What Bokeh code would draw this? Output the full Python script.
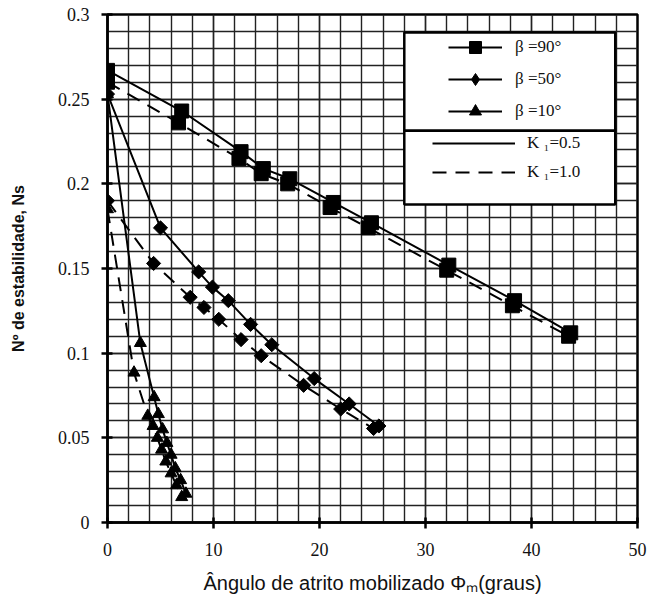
from bokeh.plotting import figure
from bokeh.models import FixedTicker, Legend, LegendItem, BoxAnnotation, Range1d
from bokeh.embed import file_html
from bokeh.resources import INLINE

# Mobilized friction angle (degrees) vs stability number Ns
b90_k05_phi = [0, 7.0, 12.6, 14.7, 17.2, 21.3, 24.9, 32.2, 38.4, 43.7]
b90_k05_ns = [0.267, 0.243, 0.219, 0.209, 0.203, 0.189, 0.177, 0.152, 0.131, 0.112]
b90_k10_phi = [0, 6.7, 12.4, 14.5, 17.0, 21.0, 24.6, 32.0, 38.2, 43.5]
b90_k10_ns = [0.260, 0.236, 0.215, 0.206, 0.200, 0.186, 0.174, 0.149, 0.128, 0.110]

b50_k05_phi = [0, 5.0, 8.6, 9.9, 11.4, 13.5, 15.5, 19.5, 22.8, 25.6]
b50_k05_ns = [0.253, 0.174, 0.148, 0.139, 0.131, 0.117, 0.105, 0.085, 0.070, 0.057]
b50_k10_phi = [0, 4.35, 7.8, 9.1, 10.5, 12.6, 14.5, 18.5, 22.0, 25.1]
b50_k10_ns = [0.190, 0.153, 0.133, 0.127, 0.120, 0.108, 0.0985, 0.081, 0.067, 0.0555]

b10_k05_phi = [0, 3.1, 4.4, 4.8, 5.2, 5.6, 6.0, 6.4, 6.9, 7.4]
b10_k05_ns = [0.253, 0.106, 0.074, 0.064, 0.055, 0.047, 0.040, 0.032, 0.025, 0.017]
b10_k10_phi = [0, 2.5, 3.8, 4.3, 4.7, 5.1, 5.5, 6.0, 6.5, 7.0]
b10_k10_ns = [0.185, 0.0885, 0.063, 0.057, 0.050, 0.043, 0.036, 0.029, 0.022, 0.015]

x_ticks = [0, 10, 20, 30, 40, 50]
x_labels = ["0", "10", "20", "30", "40", "50"]
y_ticks = [0, 0.05, 0.1, 0.15, 0.2, 0.25, 0.3]
y_labels = ["0", "0.05", "0.1", "0.15", "0.2", "0.25", "0.3"]
x_minor = list(range(0, 51, 2))
y_minor = [round(i * 0.01, 2) for i in range(31)]

series_labels = ["β =90°", "β =50°", "β =10°"]
k_labels = ["K ₁=0.5", "K ₁=1.0"]

SERIF = "Liberation Serif"
SANS = "Liberation Sans"
DASH = "14 9"

p = figure(frame_width=530, frame_height=508,
           x_range=Range1d(0, 50), y_range=Range1d(0, 0.3),
           output_backend="svg", toolbar_location=None,
           min_border_left=107, min_border_right=12,
           min_border_top=14, min_border_bottom=79,
           background_fill_color="white", border_fill_color="white")

p.outline_line_color = "black"
p.outline_line_width = 2.5

p.xaxis.ticker = FixedTicker(ticks=x_ticks, minor_ticks=x_minor)
p.yaxis.ticker = FixedTicker(ticks=y_ticks, minor_ticks=y_minor)
p.xaxis.major_label_overrides = dict(zip(x_ticks, x_labels))
p.yaxis.major_label_overrides = dict(zip(y_ticks, y_labels))

for ax in (p.xaxis, p.yaxis):
    ax.axis_line_width = 2.5
    ax.axis_line_color = "black"
    ax.major_tick_line_width = 2.5
    ax.major_tick_line_color = "black"
    ax.major_tick_in = 5
    ax.major_tick_out = 6
    ax.minor_tick_line_color = None
    ax.major_label_text_font = SERIF
    ax.major_label_text_font_size = "18px"
    ax.major_label_text_color = "#111111"
    ax.axis_label_text_font = SANS
    ax.axis_label_text_font_style = "normal"
    ax.axis_label_text_color = "#111111"

p.xaxis.major_label_standoff = 14
p.yaxis.major_label_standoff = 12
p.xaxis.axis_label = "Ângulo de atrito mobilizado Φₘ(graus)"
p.xaxis.axis_label_text_font_size = "20px"
p.xaxis.axis_label_standoff = 13
p.yaxis.axis_label = "Nº de estabilidade, Ns"
p.yaxis.axis_label_text_font_size = "16px"
p.yaxis.axis_label_text_font_style = "bold"
p.yaxis.axis_label_standoff = 28

for g in (p.xgrid, p.ygrid):
    g.grid_line_color = "#222222"
    g.grid_line_width = 1.4
    g.minor_grid_line_color = "#222222"
    g.minor_grid_line_width = 1.4

# Curves: solid lines for K1 = 0.5, dashed for K1 = 1.0
curves = [
    (b90_k05_phi, b90_k05_ns, b90_k10_phi, b90_k10_ns, "square", 14, 0.0, None),
    (b50_k05_phi, b50_k05_ns, b50_k10_phi, b50_k10_ns, "square", 10, 0.785, "diamond"),
    (b10_k05_phi, b10_k05_ns, b10_k10_phi, b10_k10_ns, "triangle", 12, 0.0, None),
]

marker_items = []
k_solid = None
k_dash = None
for (xs, ys, xd, yd, marker, size, ang, key_marker) in curves:
    ls = p.line(xs, ys, line_color="black", line_width=2)
    ms = p.scatter(xs, ys, marker=marker, size=size, angle=ang,
                   fill_color="black", line_color="black")
    ld = p.line(xd, yd, line_color="black", line_width=2, line_dash=DASH)
    p.scatter(xd, yd, marker=marker, size=size, angle=ang,
              fill_color="black", line_color="black")
    if key_marker is not None:
        # legend key symbol, drawn on the first point (inside the rotated square)
        ms = p.scatter(xs[:1], ys[:1], marker=key_marker, size=size,
                       fill_color="black", line_color="black")
    marker_items.append([ls, ms])
    if k_solid is None:
        k_solid, k_dash = ls, ld

# Legend frame (two stacked boxes)
p.add_layout(BoxAnnotation(left=28.0, right=47.9, top=0.2894, bottom=0.2314,
                           fill_color="white", fill_alpha=1.0,
                           line_color="black", line_width=2.5, line_alpha=1.0))
p.add_layout(BoxAnnotation(left=28.0, right=47.9, top=0.2314, bottom=0.1878,
                           fill_color="white", fill_alpha=1.0,
                           line_color="black", line_width=2.5, line_alpha=1.0))

leg1 = Legend(items=[LegendItem(label=lab, renderers=r) for lab, r in zip(series_labels, marker_items)],
              location=(341, 396), orientation="vertical",
              background_fill_alpha=0, border_line_color=None,
              glyph_width=54, glyph_height=30, label_height=30, spacing=2,
              label_standoff=13, padding=0, margin=0,
              label_text_font=SERIF, label_text_font_size="17px",
              label_text_color="#111111")
leg2 = Legend(items=[LegendItem(label=k_labels[0], renderers=[k_solid]),
                     LegendItem(label=k_labels[1], renderers=[k_dash])],
              location=(325, 340), orientation="vertical",
              background_fill_alpha=0, border_line_color=None,
              glyph_width=83, glyph_height=20, label_height=20, spacing=9,
              label_standoff=12, padding=0, margin=0,
              label_text_font=SERIF, label_text_font_size="17px",
              label_text_color="#111111")
p.add_layout(leg1, "center")
p.add_layout(leg2, "center")

open("out.html", "w").write(file_html(p, INLINE))
